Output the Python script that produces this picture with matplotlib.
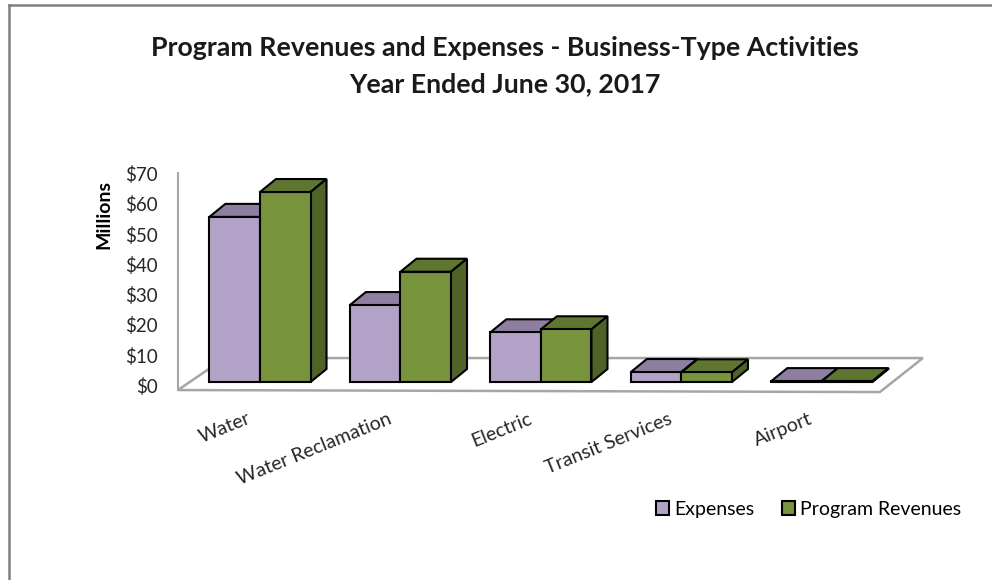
import numpy as np
import matplotlib.pyplot as plt
from matplotlib.patches import Polygon, Patch
from matplotlib.lines import Line2D

plt.rcParams['font.family'] = ['Lato', 'DejaVu Sans']

categories = ["Water", "Water Reclamation", "Electric", "Transit Services", "Airport"]
expenses = [54.5, 25.4, 16.4, 3.3, 0.3]
revenues = [62.7, 36.4, 17.4, 3.2, 0.3]
yticks = [0, 10, 20, 30, 40, 50, 60, 70]
ytick_labels = ["$0", "$10", "$20", "$30", "$40", "$50", "$60", "$70"]

exp_front, exp_top, exp_side = "#b3a2c7", "#8e7fa1", "#7a6c8a"
rev_front, rev_top, rev_side = "#77933c", "#5f7630", "#4f6228"
floor_col = "#a6a6a6"
text_col = "#262626"

w = 0.36        # bar width (category units)
base = 1.65     # bars stand a little behind the floor front edge
dx, dy = 0.114, 4.3   # depth offset of the bar boxes

fig = plt.figure(figsize=(9.92, 5.8), dpi=100)
ax = fig.add_axes([0.0921, 0.317, 0.878, 0.4075])
ax.set_xlim(-1.2, 5.0)
ax.set_ylim(-3, 75)
ax.axis("off")

# floor and wall outline
n = len(categories)
fl = [(-0.584, -0.99), (-0.249, 9.57), (n - 0.281, 9.57), (n - 0.587, -1.65)]
ax.add_patch(Polygon(fl, closed=True, facecolor="white", edgecolor=floor_col, lw=1.8, zorder=1))
ax.plot([-0.584, -0.584], [-0.99, 70.6], color=floor_col, lw=1.5, zorder=1)


def box(xs, vals, front, top, side, z):
    ax.bar(xs, vals, width=w, bottom=base, color=front, edgecolor="black",
           linewidth=1.5, zorder=z + 0.2)
    for x0, v in zip(xs, vals):
        l, r, t = x0 - w / 2, x0 + w / 2, base + v
        ax.add_patch(Polygon([(l, t), (l + dx, t + dy), (r + dx, t + dy), (r, t)],
                             facecolor=top, edgecolor="black", lw=1.5, zorder=z))
        ax.add_patch(Polygon([(r, base), (r + dx, base + dy), (r + dx, t + dy), (r, t)],
                             facecolor=side, edgecolor="black", lw=1.5, zorder=z))


x = np.arange(n)
box(x - w / 2, expenses, exp_front, exp_top, exp_side, 2)
box(x + w / 2, revenues, rev_front, rev_top, rev_side, 3)

# value axis labels
for v, s in zip(yticks, ytick_labels):
    ax.text(-0.726, v, s, ha="right", va="center", fontsize=13.5, color=text_col)

ax.text(-1.11, 57, "Millions", rotation=90, ha="center", va="center",
        fontsize=14, fontweight="bold", color="black")

for i, c in enumerate(categories):
    ax.text(i - 0.07, -10.2, c, rotation=22, rotation_mode="anchor", ha="right",
            va="center", fontsize=14, color=text_col)

fig.text(0.509, 0.917, "Program Revenues and Expenses - Business-Type Activities",
         ha="center", va="center", fontsize=19.3, fontweight="bold", color="#1a1a1a")
fig.text(0.509, 0.855, "Year Ended June 30, 2017",
         ha="center", va="center", fontsize=19.3, fontweight="bold", color="#1a1a1a")

handles = [Patch(facecolor=exp_front, edgecolor="black", lw=1.5),
           Patch(facecolor=rev_front, edgecolor="black", lw=1.5)]
fig.legend(handles, ["Expenses", "Program Revenues"], ncol=2, frameon=False,
           loc="center", bbox_to_anchor=(0.815, 0.122), fontsize=14,
           handlelength=0.7, handleheight=0.7, handletextpad=0.25, columnspacing=1.4)

# chart frame (top and left edges)
fig.add_artist(Line2D([9 / 992, 1], [1 - 5 / 580] * 2, color="#7f7f7f", lw=1.8))
fig.add_artist(Line2D([9 / 992] * 2, [0, 1 - 5 / 580], color="#7f7f7f", lw=1.8))

fig.savefig("out.png", dpi=100)
